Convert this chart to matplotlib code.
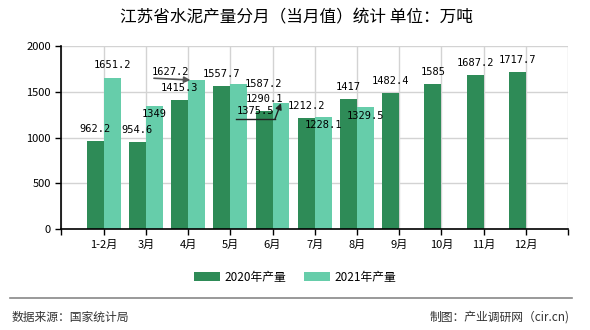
import matplotlib
matplotlib.use("Agg")
import matplotlib.pyplot as plt
import matplotlib.transforms as mtransforms
import numpy as np

plt.rcParams['font.family'] = ['Noto Sans CJK SC', 'DejaVu Sans']

# 数据
months = ["1-2月", "3月", "4月", "5月", "6月", "7月", "8月", "9月", "10月", "11月", "12月"]
prod_2020 = [962.2, 954.6, 1415.3, 1557.7, 1290.1, 1212.2, 1417, 1482.4, 1585, 1687.2, 1717.7]
prod_2021 = [1651.2, 1349, 1627.2, 1587.2, 1375.5, 1228.1, 1329.5]
label_2021 = ["1651.2", "1349", "1627.2", "1587.2", "1375.5", "1228.1", "1329.5"]

c2020 = "#2e8b57"
c2021 = "#66cdaa"
w = 0.4

fig = plt.figure(figsize=(5.9, 3.3), dpi=100)
ax = fig.add_axes([0.1042, 0.306, 0.8585, 0.5546])

x20 = np.arange(len(prod_2020))
x21 = np.arange(len(prod_2021))
ax.bar(x20 - w / 2, prod_2020, width=w, color=c2020, label="2020年产量", zorder=2)
ax.bar(x21 + w / 2, prod_2021, width=w, color=c2021, label="2021年产量", zorder=2)

ax.set_xlim(-1, len(months))
ax.set_ylim(0, 2000)
ax.set_yticks(np.arange(0, 2001, 500))
ax.set_xticks(np.arange(-1, len(months) + 1))
ax.set_xticklabels([""] + months + [""])
ax.tick_params(axis="both", labelsize=8, length=4, width=1, colors="black")
ax.grid(True, color="#d3d3d3", linewidth=1, zorder=0)
ax.set_axisbelow(True)
for s in ["top", "right"]:
    ax.spines[s].set_visible(False)
for s in ["left", "bottom"]:
    ax.spines[s].set_linewidth(1.2)

# 数值标签
lbl = dict(fontsize=7.5, family="DejaVu Sans Mono", ha="center", va="center",
           textcoords="offset pixels", zorder=5)
for i, v in enumerate(prod_2020):
    ax.annotate(f"{v:g}", xy=(i - w / 2, v), xytext=(0, 12), **lbl)

# 2021 标签偏移（像素）
off21 = [(0, 13), (0, -8), (-26, 8), (25, 0), (-25, -8), (0, -8), (0, -9)]
for i, v in enumerate(prod_2021):
    ax.annotate(label_2021[i], xy=(i + w / 2, v), xytext=off21[i], **lbl)

# 引线 4月
ax.annotate("", xy=(2 + 0.12, prod_2021[2]), xytext=(-42, 2), textcoords="offset pixels",
            arrowprops=dict(arrowstyle="-|>", color="#555555", lw=1.2, mutation_scale=9), zorder=6)
# 引线 6月：先横线再斜上
tr = mtransforms.offset_copy(ax.transData, fig=fig, x=0, y=0, units="dots")
hx, hy = 4 + w / 2, prod_2021[4]
ax.plot([hx, hx], [hy, hy], alpha=0)
px, py = ax.transData.transform((hx, hy))
inv = ax.transData.inverted()
p0 = inv.transform((px - 45, py - 16))
p1 = inv.transform((px - 6, py - 16))
ax.plot([p0[0], p1[0]], [p0[1], p1[1]], color="#222222", lw=1, zorder=6)
ax.annotate("", xy=(hx, hy), xytext=(-6, -16), textcoords="offset pixels",
            arrowprops=dict(arrowstyle="-|>", color="#222222", lw=1, mutation_scale=9,
                            shrinkA=0, shrinkB=0), zorder=6)

fig.text(0.503, 0.945, "江苏省水泥产量分月（当月值）统计 单位：万吨", ha="center", va="center", fontsize=12)

fig.legend(loc="center", bbox_to_anchor=(0.5, 0.16), ncol=2, frameon=False, fontsize=8.5,
           handlelength=2.2, handleheight=0.8, columnspacing=1.5, handletextpad=0.4)

fig.add_artist(plt.Line2D([0.017, 0.969], [0.097, 0.097], color="#888888", lw=1.2))
fig.text(0.02, 0.04, "数据来源：国家统计局", ha="left", va="center", fontsize=8.5, color="#333333")
fig.text(0.966, 0.04, "制图：产业调研网（cir.cn)", ha="right", va="center", fontsize=8.5, color="#333333")

fig.savefig("out.png", dpi=100)
